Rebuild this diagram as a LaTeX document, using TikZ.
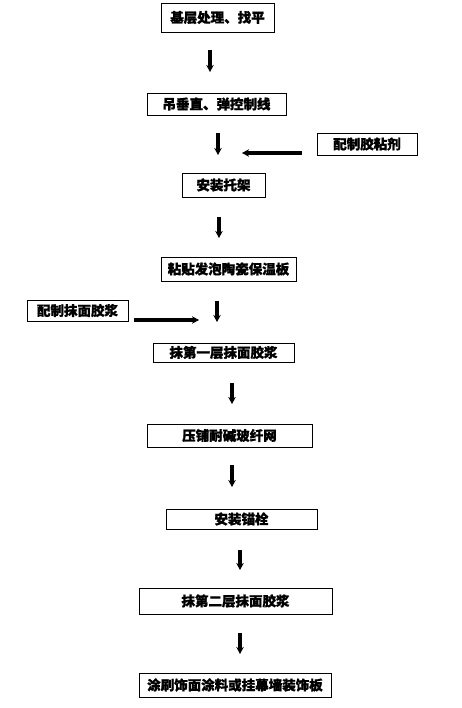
\documentclass[tikz,border=0pt]{standalone}
\usepackage{fontspec}
\newfontfamily\cjk[BoldFeatures={FakeBold=1.2}]{Noto Sans CJK SC}
\usetikzlibrary{positioning, arrows.meta}

\begin{document}
\begin{tikzpicture}[
  x=1pt, y=-1pt,
  stepbox/.style={rectangle, draw=black, line width=0.9pt, inner sep=0pt, align=center, font=\cjk\bfseries\fontsize{13.5}{15}\selectfont},
  arrow/.style={-{Stealth[length=7pt,width=7.5pt]}, line width=3.2pt}
]
\useasboundingbox (0,0) rectangle (462,708);

\node[stepbox, minimum width=113, minimum height=29] (base) at (217.5,17.5) {基层处理、找平};
\node[stepbox, minimum width=139, minimum height=22] (plumb) at (216.5,104) {吊垂直、弹控制线};
\node[stepbox, minimum width=100, minimum height=22] (glue) at (367,144) {配制胶粘剂};
\node[stepbox, minimum width=83, minimum height=24] (bracket) at (223.5,185) {安装托架};
\node[stepbox, minimum width=135, minimum height=24] (board) at (228.5,269) {粘贴发泡陶瓷保温板};
\node[stepbox, minimum width=101, minimum height=21] (mortar) at (77.5,310.5) {配制抹面胶浆};
\node[stepbox, minimum width=141, minimum height=19] (coatone) at (223.5,352.5) {抹第一层抹面胶浆};
\node[stepbox, minimum width=165, minimum height=23] (mesh) at (229.5,435.5) {压铺耐碱玻纤网};
\node[stepbox, minimum width=151, minimum height=20] (anchor) at (241.5,519) {安装锚栓};
\node[stepbox, minimum width=193, minimum height=26] (coattwo) at (235.5,601) {抹第二层抹面胶浆};
\node[stepbox, minimum width=192, minimum height=24] (finish) at (235,685) {涂刷饰面涂料或挂幕墙装饰板};

% short arrows between the steps
\coordinate (a1s) at (210,50);  \coordinate (a1e) at (210,72);
\coordinate (a2s) at (218,133); \coordinate (a2e) at (218,155);
\coordinate (a3s) at (219,217); \coordinate (a3e) at (219,238);
\coordinate (a4s) at (217,301); \coordinate (a4e) at (217,322);
\coordinate (a5s) at (232,383); \coordinate (a5e) at (232,404);
\coordinate (a6s) at (232,465); \coordinate (a6e) at (232,487);
\coordinate (a7s) at (240,550); \coordinate (a7e) at (240,570);
\coordinate (a8s) at (240,633); \coordinate (a8e) at (240,654);
\foreach \i in {1,...,8}
  \draw[arrow] (a\i s) -- (a\i e);

% side inputs
\coordinate (gluein) at (242,153);
\coordinate (mortarin) at (199,320);
\draw[arrow] (glue.west |- gluein) ++(-15,0) -- (gluein);
\draw[arrow] (mortar.east |- mortarin) ++(6,0) -- (mortarin);
\end{tikzpicture}
\end{document}
